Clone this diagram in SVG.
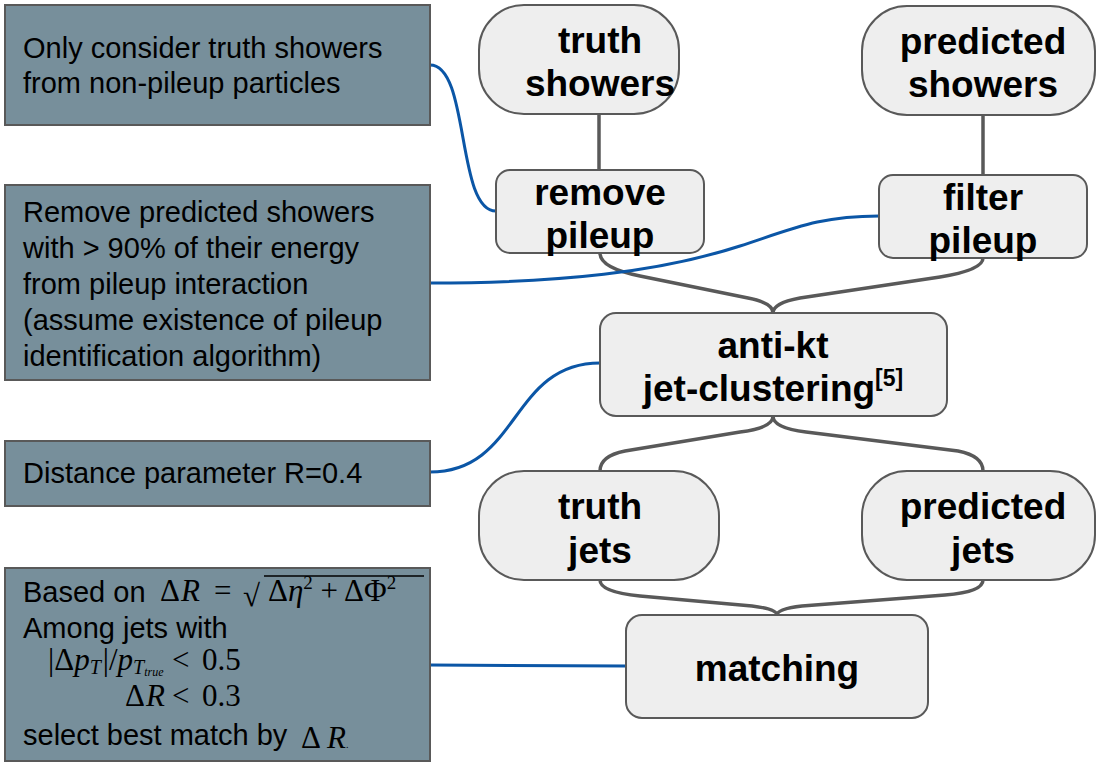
<svg xmlns="http://www.w3.org/2000/svg" width="1096" height="762" viewBox="0 0 1096 762">
<style>
.note{fill:#778f9b;stroke:#595959;stroke-width:2}
.nt{font-family:"Liberation Sans",Arial,sans-serif;font-size:29px;fill:#000}
.node{fill:#eeeeee;stroke:#595959;stroke-width:2}
.lbl{font-family:"Liberation Sans",Arial,sans-serif;font-size:37px;font-weight:bold;fill:#000;text-anchor:middle}
.m{font-family:"Liberation Serif","Times New Roman",serif;font-size:31px;fill:#000}
.gc{fill:none;stroke:#595959;stroke-width:3.5}
.bc{fill:none;stroke:#0b56a6;stroke-width:3}
</style>
<rect width="1096" height="762" fill="#ffffff"/>
<g id="connectors">
<path class="gc" d="M599,114 V170"/>
<path class="gc" d="M983,115 V175"/>
<path class="gc" d="M600,253 Q600,268 640,276 L748,298 Q773,303 773,313"/>
<path class="gc" d="M983,258 Q983,270 940,277 L800,298 Q773,303 773,313"/>
<path class="gc" d="M773,416 Q773,428 740,432 L625,451 Q600,456 600,471"/>
<path class="gc" d="M773,416 Q773,428 806,432 L958,451 Q983,456 983,471"/>
<path class="gc" d="M600,580 Q600,592 640,596 L752,606 Q777,609 777,615"/>
<path class="gc" d="M983,580 Q983,592 945,595 L802,606 Q777,609 777,615"/>
<path class="bc" d="M430,65 C470,65 456,211 496,211"/>
<path class="bc" d="M430,283 C560,283 660,272 740,246 C795,228 820,216 879,216"/>
<path class="bc" d="M430,472 C520,472 510,363 600,363"/>
<path class="bc" d="M430,665 L626,666"/>
</g>
<g id="note1">
<rect class="note" x="5" y="5" width="425" height="120"/>
<text class="nt" x="23" y="58">Only consider truth showers</text>
<text class="nt" x="23" y="93">from non-pileup particles</text>
</g>
<g id="note2">
<rect class="note" x="5" y="185" width="425" height="195"/>
<text class="nt" x="23" y="222">Remove predicted showers</text>
<text class="nt" x="23" y="258">with &gt; 90% of their energy</text>
<text class="nt" x="23" y="294">from pileup interaction</text>
<text class="nt" x="23" y="330">(assume existence of pileup</text>
<text class="nt" x="23" y="366">identification algorithm)</text>
</g>
<g id="note3">
<rect class="note" x="5" y="441" width="425" height="65"/>
<text class="nt" x="23" y="483">Distance parameter R=0.4</text>
</g>
<g id="note4">
<rect class="note" x="5" y="568" width="425" height="193"/>
<text class="nt" x="23" y="602">Based on</text>
<text class="m" x="160" y="601">Δ<tspan font-style="italic" x="181">R</tspan><tspan x="214">=</tspan></text>
<text class="m" x="243" y="606" font-size="38">√</text>
<line x1="264" y1="576" x2="424" y2="576" stroke="#000" stroke-width="1.5"/>
<text class="m" x="268" y="601">Δ<tspan font-style="italic">η</tspan><tspan font-size="19" dy="-12">2</tspan><tspan dy="12"> + ΔΦ</tspan><tspan font-size="19" dy="-12">2</tspan></text>
<text class="nt" x="23" y="638">Among jets with</text>
<text class="m" x="48" y="670">|Δ<tspan font-style="italic">p</tspan><tspan font-style="italic" font-size="20" dy="4">T</tspan><tspan dy="-4" dx="2">|/</tspan><tspan font-style="italic">p</tspan><tspan font-style="italic" font-size="20" dy="4">T</tspan><tspan font-style="italic" font-size="12" dy="2">true</tspan><tspan dy="-6" x="172">&lt;</tspan><tspan x="202">0.5</tspan></text>
<text class="m" x="125" y="706">Δ<tspan font-style="italic" x="146">R</tspan><tspan x="172">&lt;</tspan><tspan x="202">0.3</tspan></text>
<text class="nt" x="23" y="745">select best match by</text>
<text class="m" x="301" y="748" font-size="35">Δ <tspan font-style="italic">R</tspan><tspan font-size="10">.</tspan></text>
</g>
<g id="truth-showers">
<rect class="node" x="479" y="5" width="200" height="109" rx="45"/>
<text class="lbl" x="600" y="53">truth</text>
<text class="lbl" x="600" y="96">showers</text>
</g>
<g id="predicted-showers">
<rect class="node" x="862" y="6" width="233" height="109" rx="45"/>
<text class="lbl" x="983" y="54">predicted</text>
<text class="lbl" x="983" y="97">showers</text>
</g>
<g id="remove-pileup">
<rect class="node" x="496" y="170" width="208" height="83" rx="14"/>
<text class="lbl" x="600" y="205">remove</text>
<text class="lbl" x="600" y="248">pileup</text>
</g>
<g id="filter-pileup">
<rect class="node" x="879" y="175" width="208" height="83" rx="14"/>
<text class="lbl" x="983" y="210">filter</text>
<text class="lbl" x="983" y="253">pileup</text>
</g>
<g id="anti-kt">
<rect class="node" x="600" y="313" width="347" height="103" rx="16"/>
<text class="lbl" x="773" y="358">anti-kt</text>
<text class="lbl" x="773" y="401">jet-clustering<tspan font-size="23" dy="-15">[5]</tspan></text>
</g>
<g id="truth-jets">
<rect class="node" x="479" y="471" width="240" height="109" rx="45"/>
<text class="lbl" x="600" y="519">truth</text>
<text class="lbl" x="600" y="563">jets</text>
</g>
<g id="predicted-jets">
<rect class="node" x="862" y="471" width="233" height="109" rx="45"/>
<text class="lbl" x="983" y="519">predicted</text>
<text class="lbl" x="983" y="563">jets</text>
</g>
<g id="matching">
<rect class="node" x="626" y="615" width="302" height="103" rx="16"/>
<text class="lbl" x="777" y="681">matching</text>
</g>
</svg>
